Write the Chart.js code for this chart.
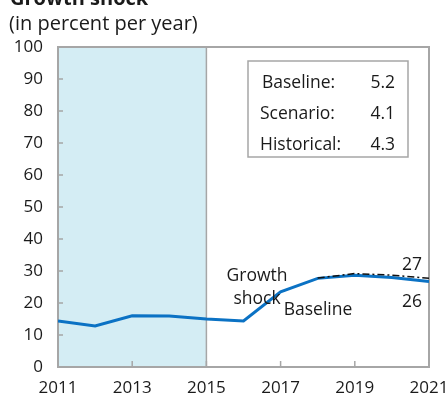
<!DOCTYPE html>
<html>
<head>
<meta charset="utf-8">
<script src="https://cdn.jsdelivr.net/npm/chart.js@4"></script>
<style>
  html, body { margin: 0; padding: 0; background: #fff; }
  #wrap { width: 448px; height: 400px; }
</style>
</head>
<body>
<div id="wrap"><canvas id="growthChart" width="448" height="400"></canvas></div>
<script>
const years = [2011, 2012, 2013, 2014, 2015, 2016, 2017, 2018, 2019, 2020, 2021];
const baseline = [14.4, 12.8, 16.0, 15.9, 15.0, 14.4, 23.5, 27.7, 28.7, 28.0, 26.7];
const scenarioYears = [2018, 2019, 2020, 2021];
const scenario = [27.8, 29.2, 28.7, 27.7];
const shadeRange = [2011, 2015];
const boxLabels = ["Baseline:", "Scenario:", "Historical:"];
const boxValues = ["5.2", "4.1", "4.3"];
const endLabels = ["27", "26"];

const FONT = "'Open Sans', 'Noto Sans', sans-serif";
const TEXT = "#1a1a1a";
const AXIS = "#a6a6a6";

const decorPlugin = {
  id: "decor",
  beforeDatasetsDraw(chart) {
    const { ctx, chartArea, scales } = chart;
    const x = scales.x;
    const y = scales.y;
    ctx.save();
    // historical shading
    const x0 = x.getPixelForValue(shadeRange[0]);
    const x1 = x.getPixelForValue(shadeRange[1]);
    ctx.fillStyle = "#d4edf4";
    ctx.fillRect(x0, chartArea.top, x1 - x0, chartArea.bottom - chartArea.top);
    ctx.strokeStyle = AXIS;
    ctx.lineWidth = 1.5;
    ctx.beginPath();
    ctx.moveTo(x1, chartArea.top);
    ctx.lineTo(x1, chartArea.bottom);
    ctx.stroke();
    // frame
    ctx.lineWidth = 2;
    ctx.strokeRect(chartArea.left, chartArea.top, chartArea.right - chartArea.left, chartArea.bottom - chartArea.top);
    // inward ticks
    ctx.lineWidth = 1.5;
    y.ticks.forEach((t) => {
      const py = y.getPixelForValue(t.value);
      ctx.beginPath();
      ctx.moveTo(chartArea.left, py);
      ctx.lineTo(chartArea.left + 5, py);
      ctx.stroke();
    });
    x.ticks.forEach((t) => {
      const px = x.getPixelForValue(t.value);
      ctx.beginPath();
      ctx.moveTo(px, chartArea.bottom);
      ctx.lineTo(px, chartArea.bottom - 6);
      ctx.stroke();
    });
    ctx.restore();
  },
  afterDraw(chart) {
    const { ctx } = chart;
    ctx.save();
    ctx.fillStyle = TEXT;
    ctx.textBaseline = "alphabetic";
    // title (cut at top) and subtitle
    ctx.font = "bold 20px " + FONT;
    ctx.fillText("Growth shock", 10, 5);
    ctx.font = "20px " + FONT;
    ctx.fillText("(in percent per year)", 9, 30);

    // stats box
    ctx.strokeStyle = AXIS;
    ctx.lineWidth = 1.5;
    ctx.strokeRect(248, 61, 160, 96);
    ctx.font = "17.5px " + FONT;
    boxLabels.forEach((lab, i) => {
      const by = 88 + i * 31;
      ctx.textAlign = "left";
      ctx.fillText(lab, i === 0 ? 262 : 260, by);
      ctx.textAlign = "right";
      ctx.fillText(boxValues[i], 395, by);
    });

    // annotations
    ctx.textAlign = "center";
    ctx.fillText("Growth", 257, 281);
    ctx.fillText("shock", 257, 304);
    ctx.fillText("Baseline", 318, 315);
    ctx.textAlign = "right";
    ctx.fillText(endLabels[0], 422, 270);
    ctx.fillText(endLabels[1], 422, 307);
    ctx.restore();
  }
};

new Chart(document.getElementById("growthChart").getContext("2d"), {
  type: "line",
  data: {
    datasets: [
      {
        label: "Scenario",
        data: scenarioYears.map((yr, i) => ({ x: yr, y: scenario[i] })),
        borderColor: "#111",
        borderWidth: 1.5,
        borderDash: [7, 3, 2, 3],
        pointRadius: 0,
        fill: false,
        tension: 0,
      },
      {
        label: "Baseline",
        data: years.map((yr, i) => ({ x: yr, y: baseline[i] })),
        borderColor: "#0b72c4",
        borderWidth: 3,
        pointRadius: 0,
        fill: false,
        tension: 0,
      },
    ],
  },
  options: {
    responsive: false,
    animation: false,
    layout: { padding: { left: 0, top: 47, right: 19, bottom: 0 } },
    plugins: { legend: { display: false }, tooltip: { enabled: false } },
    scales: {
      x: {
        type: "linear",
        min: 2011,
        max: 2021,
        grid: { display: false, drawTicks: false },
        border: { display: false },
        ticks: { stepSize: 2, color: TEXT, padding: 11, maxRotation: 0, font: { family: FONT, size: 17 }, callback: (v) => String(v) },
        afterFit: (s) => { s.height = 33; s.paddingRight = 0; s.paddingLeft = 0; },
      },
      y: {
        min: 0,
        max: 100,
        grid: { display: false, drawTicks: false },
        border: { display: false },
        ticks: { stepSize: 10, color: TEXT, padding: 15, font: { family: FONT, size: 17 } },
        afterFit: (s) => { s.width = 58; },
      },
    },
  },
  plugins: [decorPlugin],
});
</script>
</body>
</html>
